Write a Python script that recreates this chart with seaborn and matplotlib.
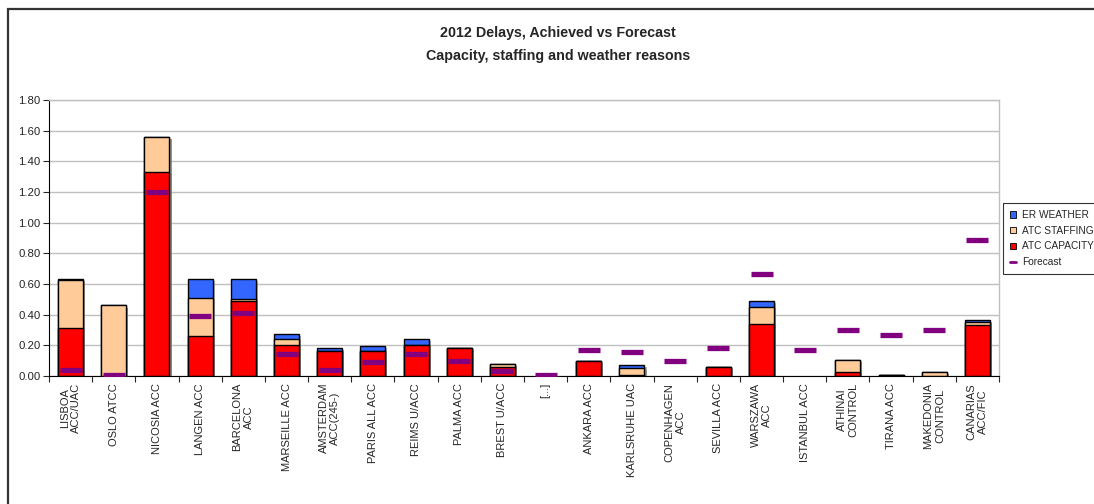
#!/usr/bin/env python3

# plot.py
#
# 2012 delays per ACC, achieved (stacked by reason) against forecast.
import matplotlib
matplotlib.use('Agg')
import matplotlib.pyplot as plt
import matplotlib.patheffects as effects
import matplotlib.ticker as ticker
from matplotlib.lines import Line2D
from matplotlib.patches import Patch, Rectangle
import numpy as np
import pandas as pd
import seaborn as sb

CENTERS = ['LISBOA\nACC/UAC', 'OSLO ATCC', 'NICOSIA ACC', 'LANGEN ACC',
           'BARCELONA\nACC', 'MARSEILLE ACC', 'AMSTERDAM\nACC(245-)',
           'PARIS ALL ACC', 'REIMS U/ACC', 'PALMA ACC', 'BREST U/ACC', '[...]',
           'ANKARA ACC', 'KARLSRUHE UAC', 'COPENHAGEN\nACC', 'SEVILLA ACC',
           'WARSZAWA\nACC', 'ISTANBUL ACC', 'ATHINAI\nCONTROL', 'TIRANA ACC',
           'MAKEDONIA\nCONTROL', 'CANARIAS\nACC/FIC']

ATC_CAPACITY = [0.31, 0.00, 1.33, 0.26, 0.49, 0.20, 0.16, 0.16, 0.20, 0.18, 0.06,
                0.00, 0.10, 0.005, 0.00, 0.06, 0.34, 0.00, 0.025, 0.005, 0.00, 0.33]
ATC_STAFFING = [0.315, 0.46, 0.23, 0.25, 0.015, 0.04, 0.005, 0.00, 0.00, 0.005, 0.02,
                0.00, 0.00, 0.045, 0.00, 0.00, 0.11, 0.00, 0.08, 0.00, 0.025, 0.02]
ER_WEATHER = [0.01, 0.00, 0.00, 0.12, 0.125, 0.035, 0.015, 0.035, 0.04, 0.00, 0.00,
              0.00, 0.00, 0.025, 0.00, 0.00, 0.04, 0.00, 0.00, 0.00, 0.00, 0.015]
FORECAST = [0.04, 0.005, 1.20, 0.39, 0.41, 0.145, 0.04, 0.09, 0.145, 0.10, 0.03,
            0.005, 0.17, 0.155, 0.095, 0.18, 0.665, 0.17, 0.30, 0.27, 0.30, 0.89]

COLORS = {
  'ER WEATHER': '#3366ff',
  'ATC STAFFING': '#ffcc99',
  'ATC CAPACITY': '#ff0000',
  'Forecast': '#800080'
}


def main():
  # Cumulative tops of each stacked layer
  df = pd.DataFrame({'center': CENTERS})
  df['capacity'] = ATC_CAPACITY
  df['staffing'] = df.capacity + np.array(ATC_STAFFING)
  df['weather'] = df.staffing + np.array(ER_WEATHER)
  df['forecast'] = FORECAST

  sb.set_style('white')
  plt.rcParams['font.family'] = ['Liberation Sans', 'DejaVu Sans']
  figure = plt.figure(figsize=(10.94, 5.04), dpi=100)
  axis = figure.add_axes([49 / 1094, 128 / 504, 950 / 1094, 276 / 504])

  # Draw from the tallest layer down so each one sits on the last
  shadow = [effects.SimplePatchShadow(offset=(1.5, -1.5), shadow_rgbFace='#808080', alpha=0.6),
            effects.Normal()]
  for column, label in [('weather', 'ER WEATHER'), ('staffing', 'ATC STAFFING'), ('capacity', 'ATC CAPACITY')]:
    sb.barplot(data=df, x='center', y=column, color=COLORS[label], saturation=1,
               width=0.58, edgecolor='black', linewidth=1.0, ax=axis, zorder=2)
  for bar in axis.patches:
    if bar.get_height() > 0:
      bar.set_path_effects(shadow)
    else:
      bar.set_visible(False)

  # Forecast as a short dash over each centre
  sb.scatterplot(x=np.arange(len(CENTERS)), y=df.forecast, marker='_', s=260,
                 linewidth=3.8, color=COLORS['Forecast'], ax=axis, zorder=4, legend=False)

  # Format the axes the way the original spreadsheet does
  axis.set_xlim(-0.5, len(CENTERS) - 0.5)
  axis.set_ylim(0, 1.8)
  axis.yaxis.set_major_locator(ticker.MultipleLocator(0.2))
  axis.yaxis.set_major_formatter(ticker.FormatStrFormatter('%.2f'))
  axis.yaxis.grid(True, color='#c0c0c0', linewidth=1.0, zorder=0)
  axis.set_axisbelow(True)
  axis.set_xlabel('')
  axis.set_ylabel('')
  axis.set_xticks(np.arange(len(CENTERS)))
  axis.set_xticklabels(CENTERS, rotation=90, fontsize=8.0, va='top', ha='center', multialignment='center')
  axis.xaxis.set_minor_locator(ticker.FixedLocator(np.arange(-0.5, len(CENTERS), 1.0)))
  axis.tick_params(axis='x', which='major', length=0, pad=5)
  axis.tick_params(axis='x', which='minor', length=4, width=0.8, direction='out', bottom=True)
  axis.tick_params(axis='y', length=4, width=0.8, direction='out', left=True, labelsize=8.2, pad=2)
  for side in ['left', 'bottom']:
    axis.spines[side].set_color('black')
    axis.spines[side].set_linewidth(0.8)
  for side in ['top', 'right']:
    axis.spines[side].set_color('#c0c0c0')
    axis.spines[side].set_linewidth(1.0)

  # Titles
  figure.text(558 / 1094, 1 - 33 / 504, '2012 Delays, Achieved vs Forecast', ha='center', va='center',
              fontsize=10.3, fontweight='bold')
  figure.text(558 / 1094, 1 - 56 / 504, 'Capacity, staffing and weather reasons', ha='center', va='center',
              fontsize=10.3, fontweight='bold')

  # Legend
  handles = [Patch(facecolor=COLORS[key], edgecolor='black', linewidth=0.6, label=key)
             for key in ['ER WEATHER', 'ATC STAFFING', 'ATC CAPACITY']]
  handles.append(Line2D([], [], color=COLORS['Forecast'], linewidth=2, label='Forecast'))
  legend = figure.legend(handles=handles, loc='upper left', bbox_to_anchor=(1003 / 1094, 1 - 203 / 504),
                         fontsize=7.3, frameon=True, fancybox=False, handlelength=0.55, handleheight=0.55,
                         handletextpad=0.6, borderpad=0.7, labelspacing=0.55, borderaxespad=0)
  legend.get_frame().set_edgecolor('black')
  legend.get_frame().set_linewidth(0.8)

  # Outer chart border, clipped by the image edge
  figure.patches.append(Rectangle((8 / 1094, -0.05), 1.2, 1 - 9 / 504 + 0.05, transform=figure.transFigure,
                                  fill=False, edgecolor='#333333', linewidth=1.6))

  plt.savefig('out.png', dpi=100)
  plt.close()


if __name__ == '__main__':
  main()
